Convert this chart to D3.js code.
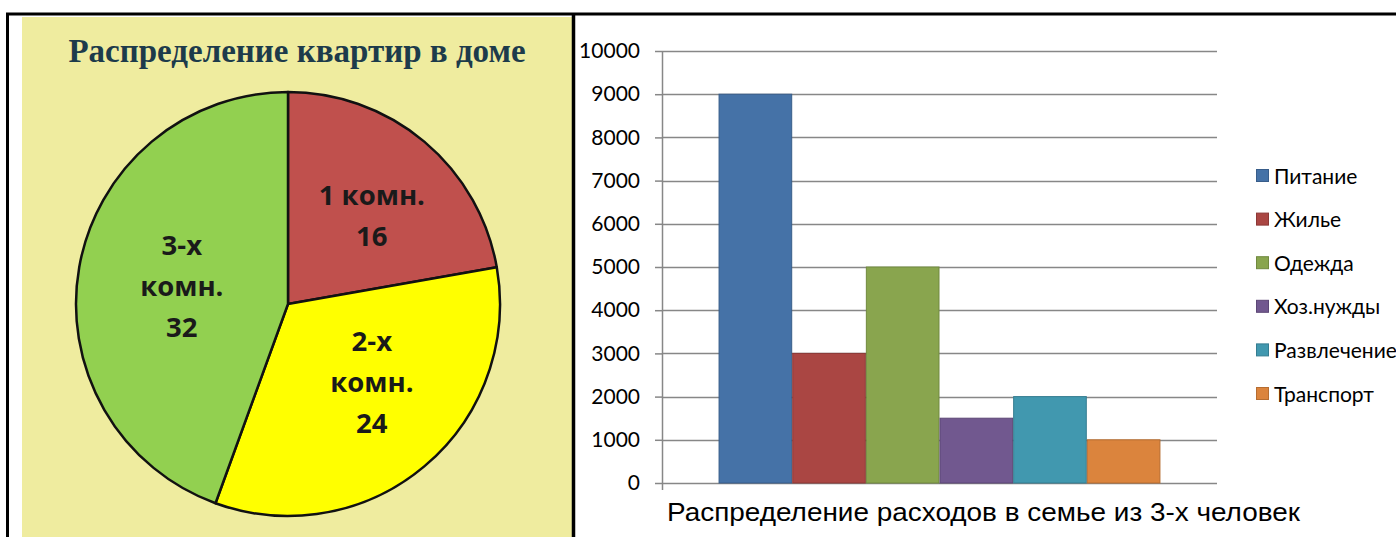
<!DOCTYPE html>
<html><head><meta charset="utf-8">
<script src="https://cdn.jsdelivr.net/npm/d3@7/dist/d3.min.js"></script>
<style>html,body{margin:0;padding:0;background:#fff}svg{display:block}</style>
</head><body>
<svg id="c" width="1396" height="537"></svg>
<script>
// ---------- data ----------
const pieTitle = "Распределение квартир в доме";
const pieCategories = ["1 комн.", "2-х комн.", "3-х комн."];
const pieValues = [16, 24, 32];
const pieLabelLines = [["1 комн.", "16"], ["2-х", "комн.", "24"], ["3-х", "комн.", "32"]];
const pieColors = ["#c0504d", "#ffff00", "#92d050"];

const barCategory = "Распределение расходов в семье из 3-х человек";
const barSeries = ["Питание", "Жилье", "Одежда", "Хоз.нужды", "Развлечение", "Транспорт"];
const barValues = [9000, 3000, 5000, 1500, 2000, 1000];
const barColors = ["#4572a7", "#aa4643", "#89a54e", "#71588f", "#4198af", "#db843d"];
const barEdges = ["#385d8a", "#8c3836", "#71893f", "#5c4776", "#357d91", "#b66d31"];
const yTicks = [0, 1000, 2000, 3000, 4000, 5000, 6000, 7000, 8000, 9000, 10000];

// ---------- canvas ----------
const svg = d3.select("#c");

// frames
svg.append("rect").attr("x", 22).attr("y", 17).attr("width", 550).attr("height", 530).attr("fill", "#efec9f");
svg.append("line").attr("x1", 6).attr("x2", 1396).attr("y1", 14).attr("y2", 14).attr("stroke", "#000").attr("stroke-width", 3);
svg.append("line").attr("x1", 7.5).attr("x2", 7.5).attr("y1", 13).attr("y2", 537).attr("stroke", "#000").attr("stroke-width", 3);
svg.append("line").attr("x1", 573.5).attr("x2", 573.5).attr("y1", 13).attr("y2", 537).attr("stroke", "#000").attr("stroke-width", 3.5);

// ---------- pie ----------
svg.append("text").attr("x", 297).attr("y", 62).attr("text-anchor", "middle")
  .attr("font-family", "'Liberation Serif', 'DejaVu Serif', serif").attr("font-weight", "bold")
  .attr("font-size", 33).attr("fill", "#1d3b4b").text(pieTitle);

const pieG = svg.append("g").attr("transform", "translate(288,304)");
const pie = d3.pie().sort(null).value(d => d)(pieValues);
const arc = d3.arc().innerRadius(0).outerRadius(212);
const labelArc = d3.arc().innerRadius(118).outerRadius(118);
pieG.selectAll("path.slice").data(pie).join("path").attr("class", "slice")
  .attr("d", arc).attr("fill", (d, i) => pieColors[i])
  .attr("stroke", "#111").attr("stroke-width", 2.5).attr("stroke-linejoin", "round");

const labelOffsets = [[8, 2], [8, -12], [10, 2]];
pieG.selectAll("text.lbl").data(pie).join("text").attr("class", "lbl")
  .attr("text-anchor", "middle")
  .attr("font-family", "'Open Sans', sans-serif").attr("font-weight", "bold")
  .attr("font-size", 27.5).attr("fill", "#1a1a1a")
  .each(function (d, i) {
    const c = labelArc.centroid(d);
    const lines = pieLabelLines[i];
    const lh = 41;
    const y0 = c[1] + labelOffsets[i][1] - (lines.length - 1) * lh / 2 + 10;
    d3.select(this).selectAll("tspan").data(lines).join("tspan")
      .attr("x", c[0] + labelOffsets[i][0]).attr("y", (t, k) => y0 + k * lh).text(t => t);
  });

// ---------- bars ----------
const axisX = 662, plotRight = 1217;
const y = d3.scaleLinear().domain([0, 10000]).range([483, 51]);
const x0 = d3.scaleBand().domain([barCategory]).range([axisX, plotRight]).paddingOuter(0.128).paddingInner(0);
const x1 = d3.scaleBand().domain(barSeries).range([0, x0.bandwidth()]).padding(0);

const gridColor = "#878787";
svg.append("g").selectAll("line").data(yTicks).join("line")
  .attr("x1", axisX).attr("x2", plotRight)
  .attr("y1", d => Math.round(y(d)) + 0.5).attr("y2", d => Math.round(y(d)) + 0.5)
  .attr("stroke", gridColor).attr("stroke-width", 1.5);

const axisG = svg.append("g").attr("transform", `translate(${axisX},0)`)
  .call(d3.axisLeft(y).tickValues(yTicks).tickSize(7).tickPadding(15).tickFormat(d3.format("d")));
axisG.select(".domain").remove();
axisG.selectAll(".tick line").attr("stroke", gridColor).attr("stroke-width", 1.5);
axisG.selectAll(".tick text").attr("font-family", "Lato, 'Open Sans', sans-serif")
  .attr("font-size", 21).attr("fill", "#000");

svg.append("line").attr("x1", axisX + 0.5).attr("x2", axisX + 0.5).attr("y1", y(10000)).attr("y2", 490)
  .attr("stroke", gridColor).attr("stroke-width", 1.5);

const barsG = svg.append("g").attr("transform", `translate(${x0(barCategory)},0)`);
barsG.selectAll("rect").data(barValues).join("rect")
  .attr("x", (d, i) => x1(barSeries[i]) + 0.5)
  .attr("y", d => y(d))
  .attr("width", x1.bandwidth() - 1)
  .attr("height", d => y(0) - y(d))
  .attr("fill", (d, i) => barColors[i])
  .attr("stroke", (d, i) => barEdges[i]).attr("stroke-width", 1);

svg.append("text").attr("x", 667).attr("y", 521)
  .attr("font-family", "'Liberation Sans', Arial, sans-serif").attr("font-size", 26)
  .attr("textLength", 633).attr("lengthAdjust", "spacingAndGlyphs")
  .attr("fill", "#000").text(barCategory);

// legend
const lg = svg.append("g").attr("transform", "translate(1256,0)");
const leg = lg.selectAll("g").data(barSeries).join("g")
  .attr("transform", (d, i) => `translate(0,${176 + i * 43.6})`);
leg.append("rect").attr("x", 0.5).attr("y", -6.5).attr("width", 12).attr("height", 12)
  .attr("fill", (d, i) => barColors[i]).attr("stroke", (d, i) => barEdges[i]);
leg.append("text").attr("x", 18).attr("y", 7.5)
  .attr("font-family", "Lato, 'Open Sans', sans-serif").attr("font-size", 21)
  .attr("fill", "#000").text(d => d);
</script>
</body></html>
